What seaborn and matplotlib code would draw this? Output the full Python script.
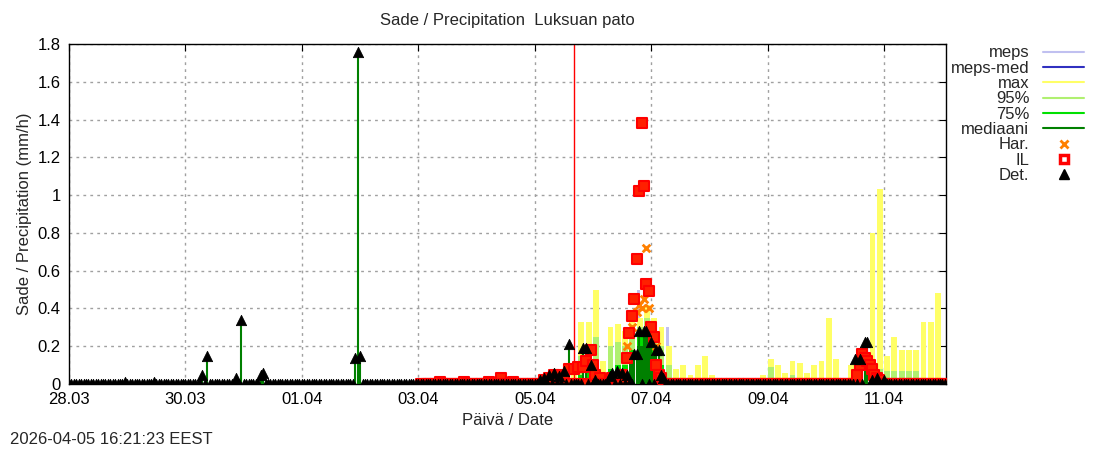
import numpy as np
import pandas as pd
import matplotlib
matplotlib.use("Agg")
import matplotlib.pyplot as plt
from matplotlib.lines import Line2D
import seaborn as sns

sns.set_style("white")
plt.rcParams['font.family'] = ['Liberation Sans', 'DejaVu Sans']

# ---- data (hours since 28.03 00:00) ----
tick_hours = [0, 48, 96, 144, 192, 240, 288, 336]
tick_labels = ["28.03", "30.03", "01.04", "03.04", "05.04", "07.04", "09.04", "11.04"]
y_ticks = [0, 0.2, 0.4, 0.6, 0.8, 1.0, 1.2, 1.4, 1.6, 1.8]
y_labels = ["0", "0.2", "0.4", "0.6", "0.8", "1", "1.2", "1.4", "1.6", "1.8"]
now_hour = 208.2

fc_hours = list(range(207, 360, 3))
fc_max = [0.05, 0.33, 0.33, 0.50, 0.12, 0.30, 0.32, 0.28, 0.33, 0.35, 0.42, 0.35, 0.30, 0.20,
          0.08, 0.10, 0.05, 0.10, 0.15, 0.05, 0.03, 0.02, 0.02, 0.01, 0.02, 0.01, 0.05, 0.13,
          0.10, 0.06, 0.12, 0.11, 0.06, 0.10, 0.12, 0.35, 0.13, 0.0, 0.10, 0.15, 0.02, 0.80,
          1.03, 0.15, 0.25, 0.18, 0.18, 0.18, 0.33, 0.33, 0.48]
fc_p95 = [0.0, 0.15, 0.20, 0.25, 0.05, 0.20, 0.22, 0.20, 0.28, 0.30, 0.35, 0.30, 0.20, 0.10,
          0.03, 0.02, 0.0, 0.02, 0.02, 0.0, 0.0, 0.0, 0.0, 0.0, 0.0, 0.0, 0.01, 0.09,
          0.02, 0.01, 0.05, 0.01, 0.0, 0.01, 0.02, 0.01, 0.02, 0.0, 0.02, 0.07, 0.01, 0.07,
          0.08, 0.07, 0.07, 0.07, 0.07, 0.07, 0.01, 0.01, 0.0]
fc_p75 = [0.0, 0.05, 0.10, 0.10, 0.02, 0.08, 0.10, 0.10, 0.18, 0.25, 0.30, 0.20, 0.10, 0.03,
          0.0, 0.0, 0.0, 0.0, 0.0, 0.0, 0.0, 0.0, 0.0, 0.0, 0.0, 0.0, 0.0, 0.0,
          0.0, 0.0, 0.0, 0.0, 0.0, 0.0, 0.0, 0.0, 0.0, 0.0, 0.0, 0.0, 0.0, 0.0,
          0.0, 0.0, 0.0, 0.0, 0.0, 0.0, 0.0, 0.0, 0.0]
fc_med = [0.0, 0.0, 0.03, 0.04, 0.0, 0.03, 0.05, 0.05, 0.12, 0.20, 0.25, 0.15, 0.05, 0.0,
          0.0, 0.0, 0.0, 0.0, 0.0, 0.0, 0.0, 0.0, 0.0, 0.0, 0.0, 0.0, 0.0, 0.0,
          0.0, 0.0, 0.0, 0.0, 0.0, 0.0, 0.0, 0.0, 0.0, 0.0, 0.0, 0.0, 0.0, 0.0,
          0.0, 0.0, 0.0, 0.0, 0.0, 0.0, 0.0, 0.0, 0.0]
fc_meps = [0.0, 0.1, 0.2, 0.2, 0.05, 0.2, 0.2, 0.2, 0.3, 0.50, 0.35, 0.3, 0.25, 0.30,
           0.05, 0.05, 0.0, 0.05, 0.05, 0.0, 0.0, 0.0, 0.0, 0.0, 0.0, 0.0, 0.0, 0.05,
           0.0, 0.0, 0.0, 0.0, 0.0, 0.0, 0.0, 0.0, 0.0, 0.0, 0.0, 0.0, 0.0, 0.0,
           0.0, 0.0, 0.0, 0.0, 0.0, 0.0, 0.0, 0.0, 0.0]

det_range = (0, 361)
det_nonzero = {23: 0.01, 35: 0.01, 55: 0.05, 57: 0.15, 69: 0.03, 71: 0.34, 79: 0.05, 80: 0.06,
               118: 0.14, 119: 1.76, 120: 0.15,
               194: 0.02, 196: 0.03, 198: 0.05, 200: 0.06, 202: 0.04, 204: 0.07, 206: 0.21,
               212: 0.19, 213: 0.19, 215: 0.10, 217: 0.02, 223: 0.04, 224: 0.06, 226: 0.07,
               228: 0.06, 230: 0.05, 233: 0.16, 234: 0.16, 235: 0.28, 237: 0.28, 238: 0.28,
               240: 0.22, 242: 0.18, 243: 0.18, 244: 0.05, 245: 0.03,
               324: 0.13, 326: 0.13, 328: 0.22, 329: 0.22, 331: 0.02, 333: 0.03, 336: 0.02}

il_range = (145, 361)
il_nonzero = {153: 0.01, 163: 0.01, 173: 0.01, 178: 0.03, 183: 0.01,
              196: 0.02, 198: 0.03, 200: 0.05, 202: 0.05, 204: 0.04, 206: 0.08, 208: 0.08,
              210: 0.09, 212: 0.09, 213: 0.12, 215: 0.18, 216: 0.10, 217: 0.05, 219: 0.03,
              224: 0.03, 228: 0.05, 230: 0.14, 231: 0.27, 232: 0.36, 233: 0.45, 234: 0.66,
              235: 1.02, 236: 1.38, 237: 1.05, 238: 0.53, 239: 0.49, 240: 0.30, 241: 0.25,
              242: 0.10, 243: 0.05, 244: 0.03,
              325: 0.05, 326: 0.10, 327: 0.16, 328: 0.14, 329: 0.12, 330: 0.10, 331: 0.08,
              332: 0.05, 333: 0.03, 334: 0.02}

har_hours = [230, 232, 234, 235, 236, 237, 238, 239, 240, 241, 242]
har_vals = [0.2, 0.3, 0.38, 0.42, 0.40, 0.45, 0.72, 0.40, 0.30, 0.25, 0.2]

# ---- build ----
det_h = np.arange(det_range[0], det_range[1] + 1)
det_v = np.array([det_nonzero.get(int(h), 0.0) for h in det_h])
il_h = np.arange(il_range[0], il_range[1] + 1)
il_v = np.array([il_nonzero.get(int(h), 0.0) for h in il_h])

c_meps, c_mmed, c_max, c_95, c_75, c_med = "#c0c0f0", "#3030c0", "#ffff66", "#b0f070", "#00e000", "#008000"

fig = plt.figure(figsize=(11, 4.5), dpi=100)
ax = fig.add_axes([69/1100, 66/450, 877/1100, 340/450])

bw = 2.4
def bars(vals, color, width=bw):
    ax.bar(fc_hours, vals, width=width, color=color, linewidth=0, align='edge')

bars(fc_meps, c_meps, width=1.2)
bars(fc_max, c_max)
bars(fc_p95, c_95)
bars(fc_p75, c_75)
bars(fc_med, c_med)
ax.vlines(det_h, 0, det_v, color=c_med, linewidth=1.5, zorder=3)

sns.scatterplot(x=har_hours, y=har_vals, marker="x", color="#ff8000", s=30, linewidth=2,
                ax=ax, zorder=4, legend=False)
sns.scatterplot(x=il_h, y=il_v, marker="s", color="#ff2000", s=50, edgecolor="#ff0000",
                linewidth=1.5, ax=ax, zorder=5, legend=False)
sns.scatterplot(x=det_h, y=det_v, marker="^", color="black", s=55, edgecolor="black",
                ax=ax, zorder=6, legend=False)

ax.axvline(now_hour, color="red", linewidth=1, zorder=2)

ax.set_xlim(0, 361.5)
ax.set_ylim(0, 1.8)
ax.set_xticks(tick_hours)
ax.set_xticklabels(tick_labels)
ax.set_yticks(y_ticks)
ax.set_yticklabels(y_labels)
ax.grid(True, color="#a0a0a0", linestyle=(0, (2, 3)), linewidth=1)
ax.set_axisbelow(True)
ax.tick_params(direction="in", length=5, top=True, right=True, labelsize=12, colors="black", pad=6)
for s in ax.spines.values():
    s.set_color("black"); s.set_linewidth(1)
ax.set_xlabel("Päivä / Date", fontsize=12)
ax.set_ylabel("Sade / Precipitation (mm/h)", fontsize=12)
ax.set_title("Sade / Precipitation  Luksuan pato", fontsize=12, pad=14)

handles = [Line2D([], [], color=c_meps, lw=1.5), Line2D([], [], color=c_mmed, lw=1.5),
           Line2D([], [], color=c_max, lw=1.5), Line2D([], [], color=c_95, lw=1.5),
           Line2D([], [], color=c_75, lw=1.5), Line2D([], [], color=c_med, lw=1.5),
           Line2D([], [], ls="", marker="x", color="#ff8000", mew=2, ms=6),
           Line2D([], [], ls="", marker="s", mfc="none", mec="#ff0000", mew=2.5, ms=6),
           Line2D([], [], ls="", marker="^", color="black", ms=7)]
labels = ["meps", "meps-med", "max", "95%", "75%", "mediaani", "Har.", "IL", "Det."]
leg = ax.legend(handles, labels, loc="upper right", bbox_to_anchor=(1.0 + 150/877, 1.03),
                frameon=False, markerfirst=False, fontsize=12, handlelength=2.5,
                labelspacing=0.02, borderaxespad=0.3, alignment="right")
for t in leg.get_texts():
    t.set_ha("right")

fig.text(10/1100, 1 - 440/450, "2026-04-05 16:21:23 EEST", fontsize=12, va="center")
fig.savefig("out.png", dpi=100)
